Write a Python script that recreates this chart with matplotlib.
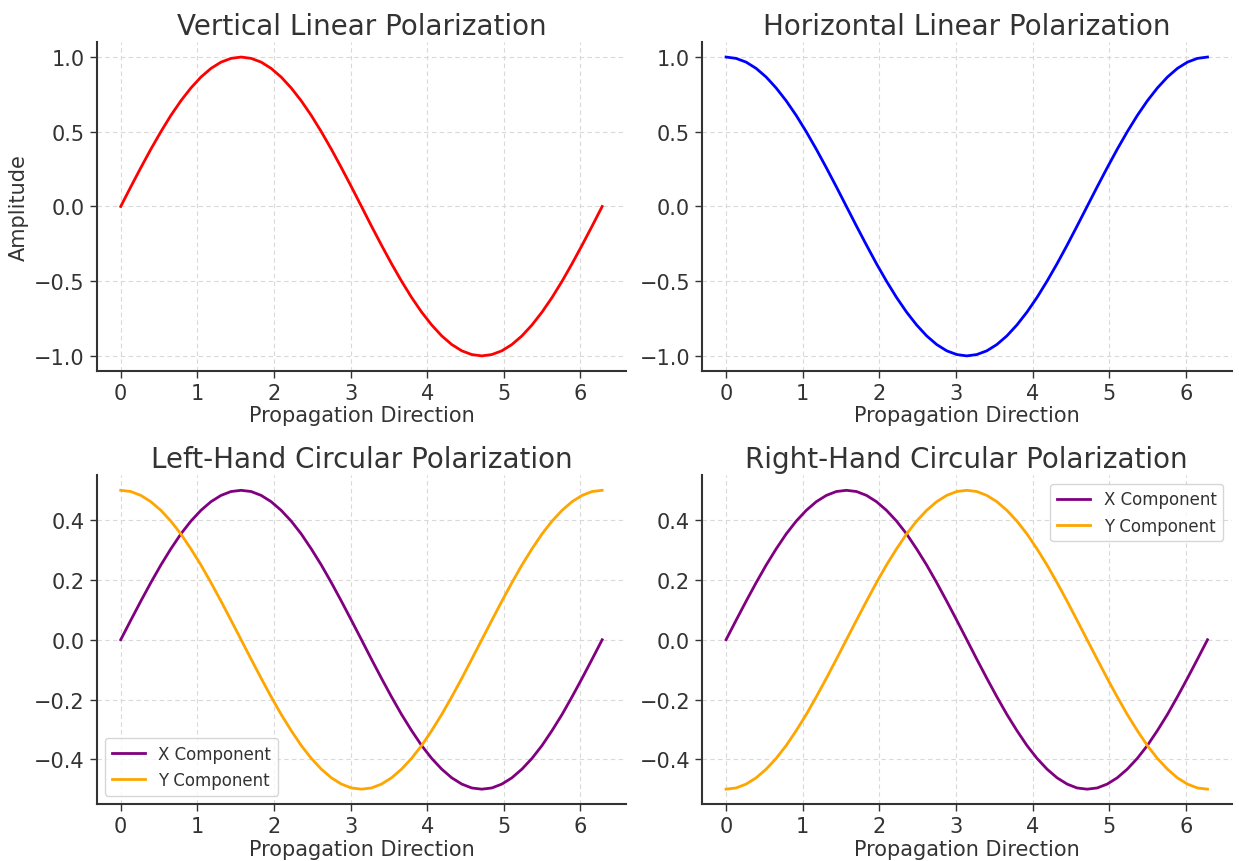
import matplotlib
matplotlib.use("Agg")
import matplotlib.pyplot as plt

# Puntos (dirección de propagación, paso de 7.5°)
x_vals = [0.000, 0.131, 0.262, 0.393, 0.524, 0.654, 0.785, 0.916, 1.047, 1.178, 1.309, 1.440, 1.571,
          1.702, 1.833, 1.963, 2.094, 2.225, 2.356, 2.487, 2.618, 2.749, 2.880, 3.011, 3.142,
          3.272, 3.403, 3.534, 3.665, 3.796, 3.927, 4.058, 4.189, 4.320, 4.451, 4.581, 4.712,
          4.843, 4.974, 5.105, 5.236, 5.367, 5.498, 5.629, 5.760, 5.890, 6.021, 6.152, 6.283]

vertical = [0.000, 0.131, 0.259, 0.383, 0.500, 0.609, 0.707, 0.793, 0.866, 0.924, 0.966, 0.991, 1.000,
            0.991, 0.966, 0.924, 0.866, 0.793, 0.707, 0.609, 0.500, 0.383, 0.259, 0.131, 0.000,
            -0.131, -0.259, -0.383, -0.500, -0.609, -0.707, -0.793, -0.866, -0.924, -0.966, -0.991, -1.000,
            -0.991, -0.966, -0.924, -0.866, -0.793, -0.707, -0.609, -0.500, -0.383, -0.259, -0.131, 0.000]

horizontal = [1.000, 0.991, 0.966, 0.924, 0.866, 0.793, 0.707, 0.609, 0.500, 0.383, 0.259, 0.131, 0.000,
              -0.131, -0.259, -0.383, -0.500, -0.609, -0.707, -0.793, -0.866, -0.924, -0.966, -0.991, -1.000,
              -0.991, -0.966, -0.924, -0.866, -0.793, -0.707, -0.609, -0.500, -0.383, -0.259, -0.131, 0.000,
              0.131, 0.259, 0.383, 0.500, 0.609, 0.707, 0.793, 0.866, 0.924, 0.966, 0.991, 1.000]

x_comp = [0.000, 0.065, 0.129, 0.191, 0.250, 0.304, 0.354, 0.397, 0.433, 0.462, 0.483, 0.496, 0.500,
          0.496, 0.483, 0.462, 0.433, 0.397, 0.354, 0.304, 0.250, 0.191, 0.129, 0.065, 0.000,
          -0.065, -0.129, -0.191, -0.250, -0.304, -0.354, -0.397, -0.433, -0.462, -0.483, -0.496, -0.500,
          -0.496, -0.483, -0.462, -0.433, -0.397, -0.354, -0.304, -0.250, -0.191, -0.129, -0.065, 0.000]

y_comp_left = [0.500, 0.496, 0.483, 0.462, 0.433, 0.397, 0.354, 0.304, 0.250, 0.191, 0.129, 0.065, 0.000,
               -0.065, -0.129, -0.191, -0.250, -0.304, -0.354, -0.397, -0.433, -0.462, -0.483, -0.496, -0.500,
               -0.496, -0.483, -0.462, -0.433, -0.397, -0.354, -0.304, -0.250, -0.191, -0.129, -0.065, 0.000,
               0.065, 0.129, 0.191, 0.250, 0.304, 0.354, 0.397, 0.433, 0.462, 0.483, 0.496, 0.500]

y_comp_right = [-0.500, -0.496, -0.483, -0.462, -0.433, -0.397, -0.354, -0.304, -0.250, -0.191, -0.129, -0.065, 0.000,
                0.065, 0.129, 0.191, 0.250, 0.304, 0.354, 0.397, 0.433, 0.462, 0.483, 0.496, 0.500,
                0.496, 0.483, 0.462, 0.433, 0.397, 0.354, 0.304, 0.250, 0.191, 0.129, 0.065, 0.000,
                -0.065, -0.129, -0.191, -0.250, -0.304, -0.354, -0.397, -0.433, -0.462, -0.483, -0.496, -0.500]

titles = ["Vertical Linear Polarization", "Horizontal Linear Polarization",
          "Left-Hand Circular Polarization", "Right-Hand Circular Polarization"]

linear_ticks = [-1.0, -0.5, 0.0, 0.5, 1.0]

GRIS = "#333333"


def estilo(ax, titulo):
    for lado in ["top", "right"]:
        ax.spines[lado].set_visible(False)
    for lado in ["left", "bottom"]:
        ax.spines[lado].set_color(GRIS)
        ax.spines[lado].set_linewidth(1.5)
    ax.grid(True, linestyle=(0, (4, 3)), color="#d9d9d9", linewidth=0.8)
    ax.tick_params(labelsize=15, colors=GRIS, length=5, width=1)
    ax.set_xlabel("Propagation Direction", fontsize=15, color=GRIS, labelpad=2)
    ax.set_title(titulo, fontsize=20, color=GRIS)


fig, axes = plt.subplots(2, 2, figsize=(12.39, 8.62), dpi=100)
fig.subplots_adjust(left=0.078, right=0.994, top=0.950, bottom=0.066,
                    wspace=0.143, hspace=0.318)

ax = axes[0, 0]
ax.plot(x_vals, vertical, color="red", linewidth=2)
ax.set_yticks(linear_ticks)
ax.set_ylabel("Amplitude", fontsize=15, color=GRIS)
estilo(ax, titles[0])

ax = axes[0, 1]
ax.plot(x_vals, horizontal, color="blue", linewidth=2)
ax.set_yticks(linear_ticks)
estilo(ax, titles[1])

ax = axes[1, 0]
ax.plot(x_vals, x_comp, color="purple", linewidth=2, label="X Component")
ax.plot(x_vals, y_comp_left, color="orange", linewidth=2, label="Y Component")
ax.legend(loc="lower left", fontsize=12, labelcolor=GRIS)
estilo(ax, titles[2])

ax = axes[1, 1]
ax.plot(x_vals, x_comp, color="purple", linewidth=2, label="X Component")
ax.plot(x_vals, y_comp_right, color="orange", linewidth=2, label="Y Component")
ax.legend(loc="upper right", fontsize=12, labelcolor=GRIS)
estilo(ax, titles[3])

fig.savefig("out.png")
